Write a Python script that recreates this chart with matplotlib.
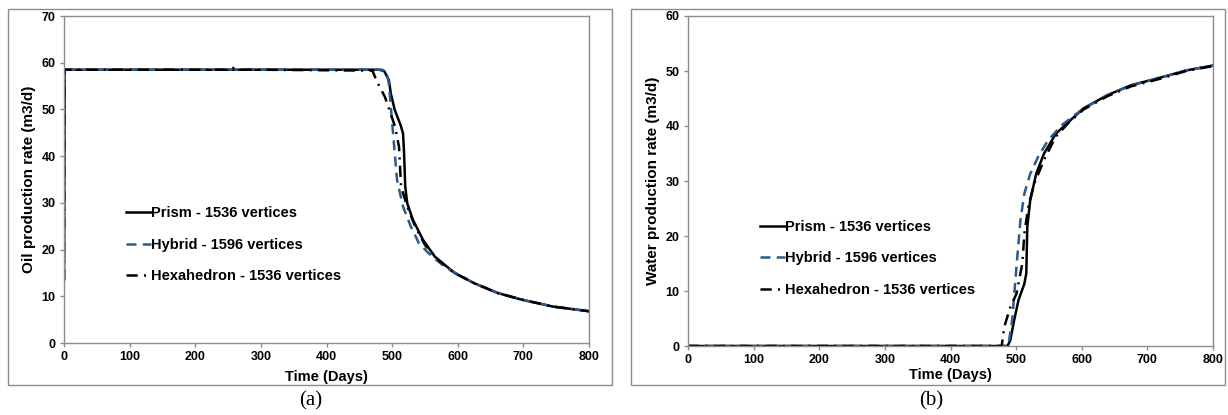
import numpy as np
import matplotlib
matplotlib.use("Agg")
import matplotlib.pyplot as plt
from matplotlib.patches import Rectangle

plt.rcParams['font.family'] = ['Liberation Sans', 'DejaVu Sans']

# ---- data ----
labels = ["Prism - 1536 vertices", "Hybrid - 1596 vertices", "Hexahedron - 1536 vertices"]

# oil production rate (m3/d)
oil_prism_t = [0, 1, 100, 257, 258, 259, 400, 480, 488, 495, 498, 504, 513, 516.6, 518, 520, 523,
               531.6, 547, 565, 595, 625, 661, 697, 745, 800]
oil_prism_q = [13.5, 58.5, 58.5, 58.5, 58.9, 58.5, 58.5, 58.5, 58.2, 56.3, 53.4, 49.9, 46.6, 44.9, 41.3,
               33.5, 29.9, 26.4, 22.1, 18.5, 15.0, 12.8, 10.7, 9.3, 7.8, 6.8]
oil_hyb_t = [0, 1, 100, 300, 485, 492, 495, 498, 504, 507.5, 516.6, 528.6, 540.7, 555, 580, 625, 661,
             697, 745, 800]
oil_hyb_q = [13.5, 58.5, 58.5, 58.5, 58.5, 57.8, 55.5, 50.6, 40.6, 34.9, 29.2, 24.9, 21.4, 19.3, 16.3,
             12.8, 10.7, 9.3, 7.8, 6.8]
oil_hex_t = [0, 1, 100, 300, 470, 477, 489, 504.5, 510.5, 513.6, 523, 535, 550, 570, 595, 625, 661,
             697, 745, 800]
oil_hex_q = [13.5, 58.5, 58.5, 58.5, 58.3, 55.9, 52.7, 46.3, 42.0, 33.5, 29.2, 25.0, 21.0, 17.8, 15.0,
             12.8, 10.7, 9.3, 7.8, 6.8]

# water production rate (m3/d)
wat_prism_t = [0, 300, 487, 491, 497, 503.5, 512.5, 515.5, 517, 521.5, 530.5, 542.5, 560.6, 578.6,
               602.7, 638.8, 674.9, 723, 759, 800]
wat_prism_q = [0, 0, 0, 1.0, 4.7, 8.3, 11.3, 13.2, 21.6, 26.5, 31.3, 35.0, 38.6, 40.6, 43.2, 45.6,
               47.4, 48.9, 50.1, 51.0]
wat_hyb_t = [0, 300, 488, 494, 500.5, 506.5, 512.5, 521.5, 533.5, 548.6, 570, 602.7, 638.8, 674.9,
             723, 759, 800]
wat_hyb_q = [0, 0, 0, 4.7, 14.4, 22.8, 27.7, 31.3, 34.4, 37.4, 40.2, 43.2, 45.6, 47.4, 48.9, 50.1, 51.0]
wat_hex_t = [0, 300, 478, 482, 491, 500.5, 509.5, 512.5, 518.5, 527.5, 542.5, 560, 580, 602.7, 638.8,
             674.9, 723, 759, 800]
wat_hex_q = [0, 0, 0, 3.5, 7.0, 9.5, 15.0, 20.4, 25.3, 29.5, 33.8, 38.0, 40.6, 43.0, 45.4, 47.2,
             48.7, 50.0, 50.9]

oil_series = [(oil_prism_t, oil_prism_q), (oil_hyb_t, oil_hyb_q), (oil_hex_t, oil_hex_q)]
wat_series = [(wat_prism_t, wat_prism_q), (wat_hyb_t, wat_hyb_q), (wat_hex_t, wat_hex_q)]

W, H = 1228, 415
fig = plt.figure(figsize=(W / 100, H / 100), dpi=100)

def px_axes(l, r, t, b):
    return fig.add_axes([l / W, 1 - b / H, (r - l) / W, (b - t) / H])

blue = '#2C5A8C'
styles = [dict(color='black', lw=1.8, ls='-'),
          dict(color=blue, lw=1.8, ls=(0, (4, 2.5))),
          dict(color='black', lw=1.8, ls=(0, (4.5, 2.5, 0.8, 2.5)))]

def style_axes(ax, ymax, ylabel, xpad):
    ax.set_xlim(0, 800)
    ax.set_ylim(0, ymax)
    ax.set_xticks(range(0, 801, 100))
    ax.set_yticks(range(0, ymax + 1, 10))
    for s in ax.spines.values():
        s.set_color('#8c8c8c')
        s.set_linewidth(1.0)
    ax.tick_params(direction='out', length=3, width=1, color='#8c8c8c', labelsize=9, pad=3)
    for lab in ax.get_xticklabels() + ax.get_yticklabels():
        lab.set_fontweight('bold')
    ax.set_xlabel('Time (Days)', fontsize=10.5, fontweight='bold', labelpad=xpad)
    ax.set_ylabel(ylabel, fontsize=11, fontweight='bold', labelpad=4)

def draw(ax, series, ymax, ylabel, leg_anchor, xpad):
    for (t, q), st, lab in zip(series, styles, labels):
        ax.plot(t, q, label=lab, **st)
    style_axes(ax, ymax, ylabel, xpad)
    leg = ax.legend(loc='upper left', bbox_to_anchor=leg_anchor, frameon=False, handlelength=1.7,
                    handletextpad=0.0, labelspacing=1.2, borderpad=0,
                    prop={'weight': 'bold', 'size': 10.5})
    return leg

ax1 = px_axes(64, 589, 16, 343)
draw(ax1, oil_series, 70, 'Oil production rate (m3/d)', (0.105, 0.44), 5)
ax2 = px_axes(688, 1213, 16, 346)
draw(ax2, wat_series, 60, 'Water production rate (m3/d)', (0.123, 0.405), 1.5)

# panel frames
for l, r, t, b in [(8, 612, 9, 385), (631, 1225, 9, 385)]:
    fig.add_artist(Rectangle((l / W, 1 - b / H), (r - l) / W, (b - t) / H, transform=fig.transFigure,
                             fill=False, edgecolor='#8c8c8c', lw=1.0))

fig.text(311 / W, 1 - 401 / H, '(a)', ha='center', va='center', fontsize=15,
         family=['Liberation Serif', 'DejaVu Serif'])
fig.text(931 / W, 1 - 401 / H, '(b)', ha='center', va='center', fontsize=15,
         family=['Liberation Serif', 'DejaVu Serif'])

fig.savefig('out.png', dpi=100)
